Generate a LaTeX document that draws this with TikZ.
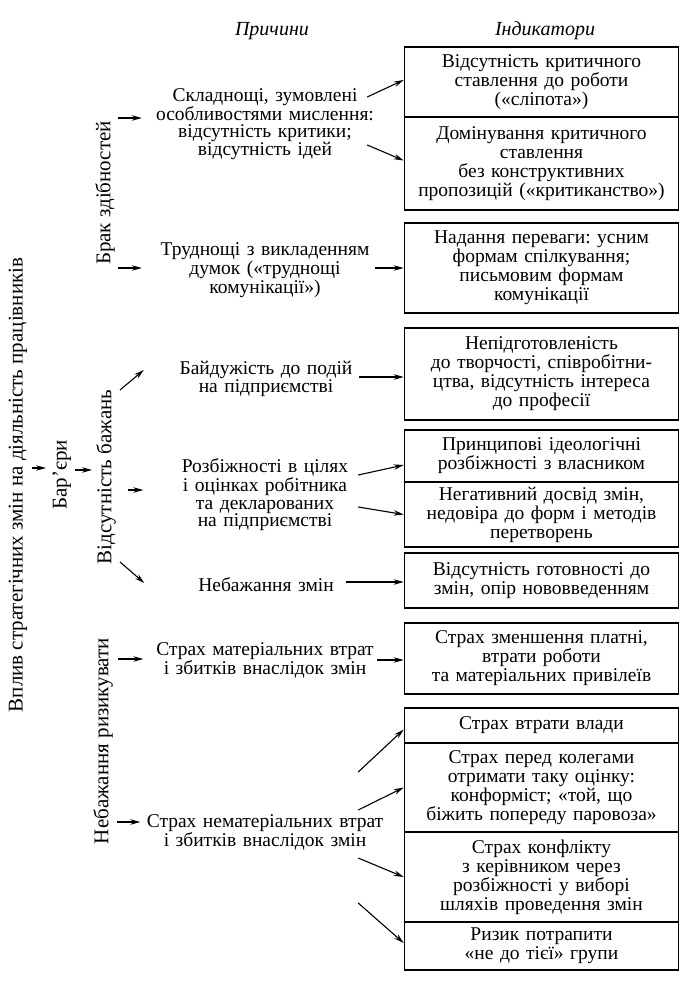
\documentclass[tikz,border=0pt]{standalone}
\usepackage{fontspec}
\setmainfont{Liberation Serif}
\usetikzlibrary{calc,arrows.meta}
\frenchspacing
\begin{document}
\begin{tikzpicture}[x=1pt,y=-1pt,
  every node/.style={font=\fontsize{19.5}{17.7}\selectfont},
  cause/.style={text width=243pt, align=center, inner sep=0pt},
  ind/.style={draw, line width=1.6pt, minimum width=274pt, text width=268pt, align=center, inner sep=0pt, font=\fontsize{19.5}{19}\selectfont},
  vlabel/.style={rotate=90, inner sep=0pt, font=\fontsize{21}{22}\selectfont},
  arr/.style={line width=1.1pt, -{Stealth[length=10pt,width=5.5pt]}},
  hdr/.style={font=\fontsize{20}{20}\selectfont\itshape}]
\useasboundingbox (0,0) rectangle (697,988);
\fill[white] (0,0) rectangle (697,988);

% headers
\node[hdr] (h1) at (272,31) {Причини};
\node[hdr] (h2) at (545,31) {Індикатори};

% left labels
\node[vlabel] (m) at (18,485) {Вплив стратегічних змін на діяльність працівників};
\node[vlabel] (bar) at (62,475) {Бар’єри};
\node[vlabel] (b1) at (105,193) {Брак здібностей};
\node[vlabel] (v) at (106,477) {Відсутність бажань};
\node[vlabel] (r) at (103,741) {Небажання ризикувати};

% causes
\node[cause] (c1) at (265,124) {Складнощі, зумовлені\\особливостями мислення:\\відсутність критики;\\відсутність ідей};
\node[cause] (c2) at (265,270) {Труднощі з викладенням\\думок («труднощі\\комунікації»)};
\node[cause] (c3) at (266,379) {Байдужість до подій\\на підприємстві};
\node[cause] (c4) at (265,495) {Розбіжності в цілях\\і оцінках робітника\\та декларованих\\на підприємстві};
\node[cause] (c5) at (266,585) {Небажання змін};
\node[cause] (c6) at (265,660) {Страх матеріальних втрат\\і збитків внаслідок змін};
\node[cause] (c7) at (265,832) {Страх нематеріальних втрат\\і збитків внаслідок змін};

% indicators
\node[ind, minimum height=70pt] (i1) at (541.5,82) {Відсутність критичного\\ставлення до роботи\\(«сліпота»)};
\node[ind, minimum height=93pt] (i2) at (541.5,163.5) {Домінування критичного\\ставлення\\без конструктивних\\пропозицій («критиканство»)};
\node[ind, minimum height=90pt] (i3) at (541.5,268) {Надання переваги: усним\\формам спілкування;\\письмовим формам\\комунікації};
\node[ind, minimum height=92pt] (i4) at (541.5,374) {Непідготовленість\\до творчості, співробітни-\\цтва, відсутність інтереса\\до професії};
\node[ind, minimum height=52pt] (i5) at (541.5,456) {Принципові ідеологічні\\розбіжності з власником};
\node[ind, minimum height=65pt] (i6) at (541.5,514.5) {Негативний досвід змін,\\недовіра до форм і методів\\перетворень};
\node[ind, minimum height=55pt] (i7) at (541.5,580.5) {Відсутність готовності до\\змін, опір нововведенням};
\node[ind, minimum height=71pt] (i8) at (541.5,658.5) {Страх зменшення платні,\\втрати роботи\\та матеріальних привілеїв};
\node[ind, minimum height=35pt] (i9) at (541.5,725.5) {Страх втрати влади};
\node[ind, minimum height=89pt] (i10) at (541.5,787.5) {Страх перед колегами\\отримати таку оцінку:\\конформіст; «той, що\\біжить попереду паровоза»};
\node[ind, minimum height=90pt] (i11) at (541.5,877) {Страх конфлікту\\з керівником через\\розбіжності у виборі\\шляхів проведення змін};
\node[ind, minimum height=48pt] (i12) at (541.5,946) {Ризик потрапити\\«не до тієї» групи};

% left arrows
\draw[arr] ($(m)+(14,-17)$) -- ($(bar)+(-16,-7)$);
\draw[arr] ($(bar)+(13,-5)$) -- ($(v)+(-14,-7)$);
\draw[arr] ($(b1)+(13,-75)$) -- ($(c1.west)+(-1.5,-6)$);
\draw[arr] ($(b1)+(13,75)$) -- ($(c2.west)+(-1.5,-2)$);
\draw[arr] ($(v)+(14,-87)$) -- ($(c3.west)+(-0.5,-9)$);
\draw[arr] ($(v)+(22,13)$) -- ($(c4.west)+(0,-5)$);
\draw[arr] ($(v)+(14,85)$) -- ($(c5.west)+(0,-2)$);
\draw[arr] ($(r)+(15,-82)$) -- ($(c6.west)+(0,-1)$);
\draw[arr] ($(r)+(14,81)$) -- ($(c7.west)+(-3,-10)$);

% cause -> indicator arrows
\draw[arr] ($(c1.east)+(-19.5,-27)$) -- ($(i1.west)+(0,-2)$);
\draw[arr] ($(c1.east)+(-19.5,21)$) -- ($(i2.west)+(0,-3)$);
\draw[arr] ($(c2.east)+(-11.5,-2)$) coordinate (s2) -- (s2 -| i3.west);
\draw[arr] ($(c3.east)+(-28.5,-2)$) coordinate (s3) -- (s3 -| i4.west);
\draw[arr] ($(c4.east)+(-28.5,-20)$) -- ($(i5.west)+(0,9)$);
\draw[arr] ($(c4.east)+(-28.5,12)$) -- (i6.west);
\draw[arr] ($(c5.east)+(-41.5,-3)$) coordinate (s5) -- (s5 -| i7.west);
\draw[arr] ($(c6.east)+(-9.5,0)$) coordinate (s6) -- (s6 -| i8.west);
\draw[arr] ($(c7.east)+(-28.5,-60)$) -- ($(i9.west)+(0,4)$);
\draw[arr] ($(c7.east)+(-28.5,-22)$) -- (i10.west);
\draw[arr] ($(c7.east)+(-28.5,26)$) -- (i11.west);
\draw[arr] ($(c7.east)+(-28.5,71)$) -- ($(i12.west)+(0,-3)$);
\end{tikzpicture}
\end{document}
